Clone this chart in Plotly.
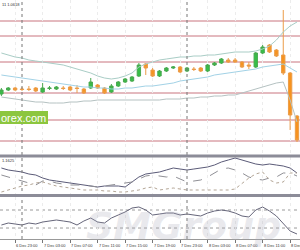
import plotly.graph_objects as go

# hours relative to 7 Dec 00:00 (H1 bars)
hours = list(range(-3, 41))

opens = [1.0606, 1.0610, 1.0612, 1.0611, 1.0611, 1.0612, 1.0608, 1.06115, 1.0611, 1.0612, 1.0613, 1.0612,
         1.0611, 1.0612, 1.0615, 1.0612, 1.0608, 1.0614, 1.0618, 1.0619, 1.0624, 1.0636, 1.0630, 1.0624,
         1.0629, 1.0632, 1.0633, 1.0629, 1.0631, 1.0632, 1.0629, 1.0635, 1.0637, 1.0640, 1.0640, 1.0638,
         1.0635, 1.0633, 1.0647, 1.0655, 1.0650, 1.0645, 1.0627, 1.0584]
highs = [1.0612, 1.0613, 1.0613, 1.0613, 1.0614, 1.0613, 1.0617, 1.0614, 1.0614, 1.0614, 1.0614, 1.0615,
         1.0612, 1.0622, 1.0616, 1.0613, 1.0616, 1.0619, 1.0622, 1.0624, 1.0637, 1.0637, 1.0632, 1.0630,
         1.0633, 1.0634, 1.0634, 1.0633, 1.0633, 1.0633, 1.0636, 1.0638, 1.0642, 1.0642, 1.0642, 1.0639,
         1.0638, 1.0648, 1.0655, 1.0656, 1.0651, 1.0690, 1.0628, 1.0585]
lows = [1.0604, 1.0609, 1.0609, 1.0609, 1.0609, 1.0608, 1.0607, 1.0610, 1.0610, 1.0610, 1.0609, 1.0607,
        1.0606, 1.0611, 1.0611, 1.0606, 1.0607, 1.0613, 1.0617, 1.0618, 1.0623, 1.0625, 1.0623, 1.0623,
        1.0628, 1.0631, 1.0627, 1.0628, 1.0629, 1.0628, 1.0628, 1.0634, 1.0636, 1.0637, 1.0637, 1.0632,
        1.0631, 1.0632, 1.0646, 1.0647, 1.0643, 1.0625, 1.0570, 1.0558]
closes = [1.0610, 1.0612, 1.0610, 1.06105, 1.06105, 1.0609, 1.0612, 1.0612, 1.0613, 1.06115, 1.0610, 1.06115,
          1.0607, 1.0618, 1.0612, 1.0607, 1.0614, 1.0618, 1.0621, 1.0623, 1.0635, 1.0632, 1.0624, 1.0629,
          1.0632, 1.0633, 1.0628, 1.0632, 1.06305, 1.0629, 1.0635, 1.0637, 1.0641, 1.0638, 1.0638, 1.0633,
          1.0634, 1.0647, 1.0653, 1.0648, 1.0644, 1.0627, 1.0585, 1.0560]

bb_upper = [1.0647, 1.0645, 1.0643, 1.0642, 1.0640, 1.0639, 1.0638, 1.0637, 1.0636, 1.0635, 1.0633, 1.0631,
            1.0629, 1.0627, 1.0624, 1.0622, 1.0621, 1.0622, 1.0624, 1.0627, 1.0633, 1.0636, 1.0638, 1.0640,
            1.0641, 1.0642, 1.0643, 1.0643, 1.0644, 1.0644, 1.0645, 1.0645, 1.0646, 1.0647, 1.0648, 1.0648,
            1.0648, 1.0649, 1.0651, 1.0654, 1.0660, 1.0668, 1.0674, 1.0678]
bb_middle = [1.0625, 1.0624, 1.0623, 1.0622, 1.0621, 1.0620, 1.0619, 1.0618, 1.0617, 1.0616, 1.0615, 1.0614,
             1.0613, 1.0613, 1.0612, 1.0612, 1.0611, 1.0611, 1.0612, 1.0612, 1.0613, 1.0614, 1.0614, 1.0615,
             1.0616, 1.0617, 1.0619, 1.0620, 1.0621, 1.0622, 1.0623, 1.0625, 1.0626, 1.0627, 1.0628, 1.0629,
             1.0630, 1.0631, 1.0633, 1.0634, 1.0635, 1.0636, 1.0632, 1.0628]
bb_lower = [1.0603, 1.0602, 1.0601, 1.0600, 1.0599, 1.0598, 1.0598, 1.0597, 1.0597, 1.0597, 1.0598, 1.0598,
            1.0599, 1.0599, 1.0600, 1.0600, 1.0600, 1.0600, 1.0600, 1.0600, 1.0600, 1.0600, 1.0600, 1.0600,
            1.0601, 1.0601, 1.0601, 1.0602, 1.0602, 1.0603, 1.0603, 1.0604, 1.0604, 1.0605, 1.0605, 1.0607,
            1.0609, 1.0611, 1.0613, 1.0615, 1.0617, 1.0618, 1.0600, 1.0578]

levels = [1.0679, 1.0664, 1.0638, 1.0607, 1.0580, 1.0559]

adx = [39, 36, 34.5, 33, 30, 28.5, 24, 21, 19.5, 18, 16.5, 15, 13.5, 12, 10.5, 12, 12, 12, 10.5, 18, 25.5, 30,
       31.5, 33, 36, 39, 37.5, 36, 37.5, 39, 40.5, 43.5, 48, 51, 54, 51, 48, 45, 43.5, 45, 43.5, 42, 39, 31.5]
di_plus = [28.5, 25.5, 22.5, 19.5, 16.5, 13.5, 19.5, 19.5, 16.5, 15, 13.5, 13.5, 13.5, 12, 10.5, 12, 13.5, 15,
           16.5, 18, 22.5, 27, 28.5, 27, 25.5, 27, 22.5, 18, 19.5, 21, 25.5, 31.5, 37.5, 39, 36, 31.5, 25.5,
           22.5, 21, 24, 25.5, 31.5, 31.5, 27]
di_minus = [3, 6, 9, 12, 13.5, 16.5, 18, 15, 12, 10.5, 9, 7.5, 6, 6, 6, 4.5, 4.5, 3, 3, 4.5, 6, 9, 10.5, 6,
            7.5, 9, 7.5, 6, 6, 6, 6, 6, 6, 6, 7.5, 16.5, 24, 30, 33, 21, 16.5, 18, 31.5, 31.5]

osc = [36.7, 41.1, 38.9, 36.7, 41.1, 38.9, 43.3, 45.6, 47.8, 45.6, 43.3, 36.7, 45.6, 52.2, 43.3, 41.1, 52.2,
       58.9, 65.6, 74.4, 76.7, 70, 58.9, 61.1, 63.3, 63.3, 58.9, 61.1, 58.9, 56.7, 63.3, 67.8, 70, 67.8,
       63.3, 56.7, 54.4, 70, 76.7, 67.8, 56.7, 41.1, 23.3, 16.7]
osc_levels = [70, 30]

tick_hours = [-5, -1, 3, 7, 11, 15, 19, 23, 27, 31, 35, 39]
tick_labels = ["6 Dec 19:00", "6 Dec 23:00", "7 Dec 03:00", "7 Dec 07:00", "7 Dec 11:00", "7 Dec 15:00",
               "7 Dec 19:00", "7 Dec 23:00", "8 Dec 03:00", "8 Dec 07:00", "8 Dec 11:00", "8 Dec 15:00"]
separator_hours = [0, 24]

W, H = 300, 250
def fy(px):
    return 1 - px / H

fig = go.Figure()

band_col = "#a9cdc6"
fig.add_trace(go.Scatter(x=hours, y=bb_upper, mode="lines", line=dict(color=band_col, width=1),
                         xaxis="x", yaxis="y", hoverinfo="skip"))
fig.add_trace(go.Scatter(x=hours, y=bb_middle, mode="lines", line=dict(color="#a2d2e6", width=1),
                         xaxis="x", yaxis="y", hoverinfo="skip"))
fig.add_trace(go.Scatter(x=hours, y=bb_lower, mode="lines", line=dict(color="#b5c2c2", width=1),
                         xaxis="x", yaxis="y", hoverinfo="skip"))

fig.add_trace(go.Candlestick(
    x=hours, open=opens, high=highs, low=lows, close=closes, xaxis="x", yaxis="y",
    increasing=dict(fillcolor="#36bf47", line=dict(color="#48a84f", width=1)),
    decreasing=dict(fillcolor="#f7931e", line=dict(color="#eb9c48", width=1)),
    whiskerwidth=0, showlegend=False))

fig.add_trace(go.Scatter(x=hours, y=adx, mode="lines", line=dict(color="#5b5b78", width=1),
                         xaxis="x2", yaxis="y2"))
fig.add_trace(go.Scatter(x=hours, y=di_plus, mode="lines", line=dict(color="#8f8f95", width=1, dash="dash"),
                         xaxis="x2", yaxis="y2"))
fig.add_trace(go.Scatter(x=hours, y=di_minus, mode="lines", line=dict(color="#b3a595", width=1, dash="dot"),
                         xaxis="x2", yaxis="y2"))

fig.add_trace(go.Scatter(x=hours, y=osc, mode="lines", line=dict(color="#66667a", width=1),
                         xaxis="x3", yaxis="y3"))

xr = [(0 - 22) / 6.875, (300 - 22) / 6.875]
common_x = dict(range=xr, showticklabels=False, zeroline=False, showgrid=True, gridcolor="#ececec",
                griddash="dot", gridwidth=1, tickvals=tick_hours, fixedrange=True)
shapes = []
for lv in levels:
    shapes.append(dict(type="line", xref="paper", x0=0, x1=1, yref="y", y0=lv, y1=lv,
                       line=dict(color="#c9747e", width=1), layer="below"))
for lv in osc_levels:
    shapes.append(dict(type="line", xref="paper", x0=0, x1=1, yref="y3", y0=lv, y1=lv,
                       line=dict(color="#9a9a9a", width=1, dash="dot"), layer="below"))
for sh in separator_hours:
    shapes.append(dict(type="line", xref="x", x0=sh, x1=sh, yref="paper", y0=fy(239), y1=1,
                       line=dict(color="#777777", width=1, dash="dot")))
for py in [156, 195.5]:
    shapes.append(dict(type="line", xref="paper", x0=0, x1=1, yref="paper", y0=fy(py), y1=fy(py),
                       line=dict(color="#8c8c98", width=3)))
shapes.append(dict(type="rect", xref="paper", x0=0, x1=48 / W, yref="paper", y0=fy(124), y1=fy(111),
                   fillcolor="#8cc63f", line=dict(width=0)))

small = dict(family="Liberation Sans Narrow, Liberation Sans", size=4, color="#333333")
annotations = []
for th, tl in zip(tick_hours, tick_labels):
    annotations.append(dict(x=th, xref="x3", y=fy(245), yref="paper", text=tl, showarrow=False,
                            xanchor="left", yanchor="middle", xshift=0, borderpad=0, font=small))
annotations.append(dict(x=0, xref="paper", y=fy(4), yref="paper", text="11 1.0618", showarrow=False,
                        xanchor="left", yanchor="middle", font=small))
annotations.append(dict(x=0, xref="paper", y=fy(160), yref="paper", text="1.1625", showarrow=False,
                        xanchor="left", yanchor="middle", font=small))
annotations.append(dict(x=0, xref="paper", y=fy(117.5), yref="paper", text="orex.com", showarrow=False,
                        xanchor="left", yanchor="middle", xshift=-1,
                        font=dict(family="Liberation Sans", size=11, color="white")))
annotations.append(dict(x=183 / W, xref="paper", y=fy(226), yref="paper", text="<i><b>SMGroup</b></i>",
                        showarrow=False, xanchor="center", yanchor="middle",
                        font=dict(family="DejaVu Sans", size=38, color="rgba(170,170,185,0.25)")))

fig.update_layout(
    width=W, height=H, margin=dict(l=0, r=0, t=0, b=0),
    paper_bgcolor="white", plot_bgcolor="white", showlegend=False,
    xaxis=dict(domain=[0, 1], anchor="y", rangeslider=dict(visible=False), **common_x),
    xaxis2=dict(domain=[0, 1], anchor="y2", matches="x", **common_x),
    xaxis3=dict(domain=[0, 1], anchor="y3", matches="x", ticks="outside", ticklen=3, tickcolor="#777",
                showline=True, linecolor="#999", **common_x),
    yaxis=dict(domain=[fy(155), 1], range=[1.0545, 1.0700], showticklabels=False, showgrid=False,
               zeroline=False, fixedrange=True),
    yaxis2=dict(domain=[fy(194), fy(157)], range=[0, 55.5], showticklabels=False, showgrid=False,
                zeroline=False, fixedrange=True),
    yaxis3=dict(domain=[fy(239), fy(197)], range=[5.6, 98.9], showticklabels=False, showgrid=False,
                zeroline=False, fixedrange=True),
    shapes=shapes, annotations=annotations,
)

fig.write_html("out.html")
